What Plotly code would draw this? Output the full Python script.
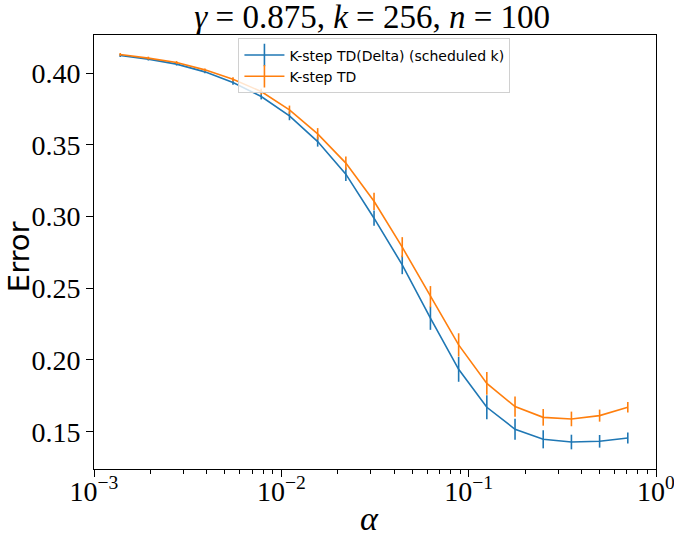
import plotly.graph_objects as go

# step sizes alpha = 2^(-k/2), k = 19..1
alpha = [0.00138, 0.00195, 0.00276, 0.00391, 0.00552, 0.00781, 0.01105, 0.01563,
         0.0221, 0.03125, 0.0442, 0.0625, 0.0884, 0.125, 0.1768, 0.25, 0.3536, 0.5, 0.7071]

delta_err = [0.4122, 0.4097, 0.4062, 0.4008, 0.3934, 0.3836, 0.3701, 0.3522, 0.3295, 0.2988,
             0.2663, 0.2291, 0.1935, 0.1670, 0.1517, 0.1447, 0.1428, 0.1433, 0.1456]
delta_sd = [0.001, 0.001, 0.001, 0.001, 0.0015, 0.002, 0.003, 0.0035, 0.0047, 0.0053,
            0.0065, 0.0081, 0.0087, 0.0084, 0.0073, 0.0063, 0.0051, 0.0044, 0.0038]

td_err = [0.4129, 0.4104, 0.4073, 0.4022, 0.3957, 0.3871, 0.3743, 0.3576, 0.3372, 0.3106,
          0.2786, 0.2441, 0.2105, 0.1837, 0.1675, 0.1600, 0.1589, 0.1612, 0.1670]
td_sd = [0.001, 0.001, 0.001, 0.001, 0.0014, 0.002, 0.003, 0.004, 0.0047, 0.006,
         0.0070, 0.0074, 0.0081, 0.0079, 0.0070, 0.0058, 0.0051, 0.0042, 0.0037]

names = ["K-step TD(Delta) (scheduled k)", "K-step TD"]
colors = ["#1f77b4", "#ff7f0e"]

fig = go.Figure()
for ys, sd, c in [(delta_err, delta_sd, colors[0]), (td_err, td_sd, colors[1])]:
    fig.add_trace(go.Scatter(
        x=alpha, y=ys, mode="lines", showlegend=False,
        line=dict(color=c, width=1.6),
        error_y=dict(type="data", array=sd, color=c, thickness=1.6, width=0),
    ))

# legend entries with the errorbar glyph
for n, c in zip(names, colors):
    fig.add_trace(go.Scatter(
        x=[None], y=[None], mode="lines+markers", name=n,
        line=dict(color=c, width=1.6),
        marker=dict(symbol="line-ns-open", size=20, line=dict(color=c, width=1.6)),
    ))

serif = "Liberation Serif, DejaVu Serif, serif"
sans = "DejaVu Sans, sans-serif"
minor_vals = [m * 10 ** e for e in (-3, -2, -1) for m in range(2, 10)]

fig.update_layout(
    width=674, height=541,
    margin=dict(l=94, r=18, t=35, b=72),
    paper_bgcolor="white", plot_bgcolor="white",
    title=dict(text="<i>γ</i> = 0.875, <i>k</i> = 256, <i>n</i> = 100",
               x=0.495, xref="paper", xanchor="center",
               y=1.0, yref="paper", yanchor="bottom", pad=dict(b=7),
               font=dict(family=serif, size=33, color="black")),
    legend=dict(x=0.257, y=0.992, xanchor="left", yanchor="top",
                bgcolor="rgba(255,255,255,0.8)", bordercolor="#d0d0d0", borderwidth=1,
                font=dict(family=sans, size=14, color="black"),
                tracegroupgap=0, itemwidth=40),
    annotations=[
        dict(text="Error", xref="paper", yref="paper", x=-0.132, y=0.49,
             xanchor="center", yanchor="middle", textangle=-90, showarrow=False,
             font=dict(family=sans, size=29, color="black")),
        dict(text="<i>α</i>", xref="paper", yref="paper", x=0.49, y=-0.113,
             xanchor="center", yanchor="middle", showarrow=False,
             font=dict(family=serif, size=34, color="black")),
    ],
)

fig.update_xaxes(
    type="log", range=[-3, 0], automargin=False,
    tickvals=[0.001, 0.01, 0.1, 1],
    ticktext=["10<sup>−3</sup>", "10<sup>−2</sup>", "10<sup>−1</sup>", "10<sup>0</sup>"],
    ticks="outside", ticklen=7, tickcolor="black", tickwidth=1,
    ticklabelstandoff=-10, ticklabeloverflow="allow",
    minor=dict(tickvals=minor_vals, ticks="outside", ticklen=4, tickcolor="black", tickwidth=0.8),
    showline=True, linecolor="black", linewidth=1, mirror=True, showgrid=False, zeroline=False,
    tickfont=dict(family=serif, size=28, color="black"),
)
fig.update_yaxes(
    range=[0.124, 0.4265], automargin=False,
    tickvals=[0.15, 0.20, 0.25, 0.30, 0.35, 0.40],
    ticktext=["0.15", "0.20", "0.25", "0.30", "0.35", "0.40"],
    ticks="outside", ticklen=7, tickcolor="black", tickwidth=1, ticklabeloverflow="allow",
    showline=True, linecolor="black", linewidth=1, mirror=True, showgrid=False, zeroline=False,
    tickfont=dict(family=serif, size=28, color="black"),
)

fig.write_html("out.html", config={"displayModeBar": False},
               post_script="document.body.style.margin='0';")
